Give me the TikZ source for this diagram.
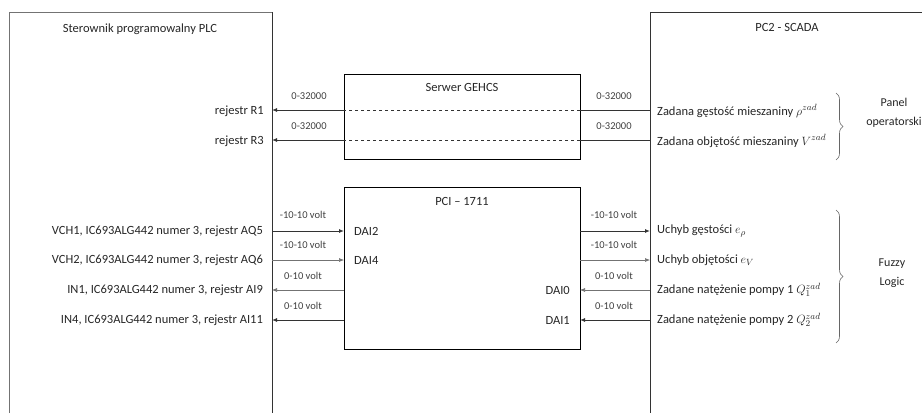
\documentclass[tikz,border=0pt]{standalone}
\usepackage{fontspec}
\setmainfont{Carlito}
\usetikzlibrary{arrows.meta,decorations.pathreplacing}
\tikzset{
  txt/.style={font=\fontsize{12.5}{14.5}\selectfont, inner sep=0pt, text=black!85},
  twoline/.style={txt, align=center, font=\fontsize{12}{19}\selectfont},
  small/.style={font=\fontsize{10.5}{12}\selectfont, inner sep=0pt, text=black!75},
  sig/.style={line width=0.9pt, draw=black!80, -{Latex[length=5pt,width=4pt]}},
  sigl/.style={line width=0.6pt, draw=black!55, -{Latex[length=5pt,width=4pt]}},
  wire/.style={line width=0.9pt, draw=black!80},
  brc/.style={draw=black!60, line width=0.6pt, decorate, decoration={brace, amplitude=7pt}}
}
\begin{document}
\begin{tikzpicture}[x=1pt,y=-1pt]
\useasboundingbox (0,0) rectangle (922,413);

\draw[black!55, line width=1pt] (9,413) -- (9,12) -- (272,12);
\draw[black!80, line width=0.8pt] (272,12) -- (272,413);
\node[txt] at (140,29) {Sterownik programowalny PLC};
\coordinate (plcE) at (272,0);

\draw[black!80, line width=0.8pt] (922,12) -- (650,12) -- (650,413);
\node[txt] at (787,27) {PC2 - SCADA};
\coordinate (scadaW) at (650,0);

\draw[line width=0.8pt] (344,74) rectangle (580,159);
\coordinate (gehcsW) at (344,0);
\coordinate (gehcsE) at (580,0);
\node[txt] at (462,87) {Serwer GEHCS};

\draw[line width=0.8pt] (344,187) rectangle (580,349);
\coordinate (pciW) at (344,0);
\coordinate (pciE) at (580,0);
\node[txt] at (462,201) {PCI -- 1711};

\coordinate (r1) at (0,110);
\coordinate (r3) at (0,140);
\node[txt, anchor=east] (regR1) at (264,111) {rejestr R1};
\node[txt, anchor=east] (regR3) at (264,141) {rejestr R3};
\node[txt, anchor=west] (rho) at (657,111) {Zadana gęstość mieszaniny $\rho^{zad}$};
\node[txt, anchor=west] (vol) at (657,141) {Zadana objętość mieszaniny $V^{zad}$};
\node[small] at (309,96) {0-32000};
\node[small] at (309,126) {0-32000};
\node[small] at (614,96) {0-32000};
\node[small] at (614,126) {0-32000};

\draw[wire] (scadaW |- r1) -- (gehcsE |- r1);
\draw[wire, dashed] (gehcsE |- r1) -- (gehcsW |- r1);
\draw[sig] (gehcsW |- r1) -- (plcE |- r1);
\draw[wire] (scadaW |- r3) -- (gehcsE |- r3);
\draw[wire, dashed] (gehcsE |- r3) -- (gehcsW |- r3);
\draw[sig] (gehcsW |- r3) -- (plcE |- r3);

\coordinate (a) at (0,231);
\coordinate (b) at (0,260);
\coordinate (c) at (0,290);
\coordinate (d) at (0,320);
\node[txt, anchor=east] (aq5) at (263,231) {VCH1, IC693ALG442 numer 3, rejestr AQ5};
\node[txt, anchor=east] (aq6) at (263,260) {VCH2, IC693ALG442 numer 3, rejestr AQ6};
\node[txt, anchor=east] (ai9) at (263,290) {IN1, IC693ALG442 numer 3, rejestr AI9};
\node[txt, anchor=east] (ai11) at (263,320) {IN4, IC693ALG442 numer 3, rejestr AI11};
\node[txt, anchor=west] (dai2) at (354,231) {DAI2};
\node[txt, anchor=west] (dai4) at (354,260) {DAI4};
\node[txt, anchor=east] (dai0) at (570,290) {DAI0};
\node[txt, anchor=east] (dai1) at (570,320) {DAI1};
\node[txt, anchor=west] (erho) at (657,231) {Uchyb gęstości $e_\rho$};
\node[txt, anchor=west] (ev) at (657,260) {Uchyb objętości $e_V$};
\node[txt, anchor=west] (q1) at (657,290) {Zadane natężenie pompy 1 $Q_1^{zad}$};
\node[txt, anchor=west] (q2) at (657,320) {Zadane natężenie pompy 2 $Q_2^{zad}$};

\node[small] at (303,215) {-10-10 volt};
\node[small] at (303,245) {-10-10 volt};
\node[small] at (303,276) {0-10 volt};
\node[small] at (303,306) {0-10 volt};
\node[small] at (614,215) {-10-10 volt};
\node[small] at (614,245) {-10-10 volt};
\node[small] at (614,276) {0-10 volt};
\node[small] at (614,306) {0-10 volt};

\draw[sig] (plcE |- a) -- (pciW |- a);
\draw[sigl] (plcE |- b) -- (pciW |- b);
\draw[sigl] (pciW |- c) -- (plcE |- c);
\draw[sig] (pciW |- d) -- (plcE |- d);
\draw[sig] (pciE |- a) -- (scadaW |- a);
\draw[sigl] (pciE |- b) -- (scadaW |- b);
\draw[sigl] (scadaW |- c) -- (pciE |- c);
\draw[sig] (scadaW |- d) -- (pciE |- d);

\draw[brc] (836,93) -- (836,160);
\node[twoline] (panel) at (894,113) {Panel\\operatorski};
\draw[brc] (836,210) -- (836,343);
\node[twoline] (fuzzy) at (892,273) {Fuzzy\\Logic};
\end{tikzpicture}
\end{document}
